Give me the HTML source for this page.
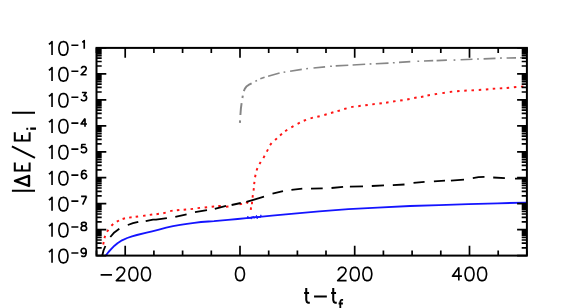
<!DOCTYPE html>
<html><head><meta charset="utf-8"><title>plot</title>
<style>
html,body{margin:0;padding:0;background:#fff;}
body{width:568px;height:308px;overflow:hidden;}
svg{display:block;}
</style></head><body>
<svg width="568" height="308" viewBox="0 0 568 308">
<rect width="568" height="308" fill="#fff"/>
<path d="M239.9,122.8 L240.1,120.3 M240.4,115.0 L240.9,108.5 L241.6,103.2 M242.4,98.0 L242.8,95.6 M243.8,91.2 L244.9,88.6 L246.4,86.6 L248.6,84.9 L251.6,83.4" fill="none" stroke="#858585" stroke-width="1.95" stroke-linejoin="round"/>
<path d="M255.4,81.2 L257.0,80.5 M260.3,78.8 L264.6,77.3 M268.1,76.2 L279.6,73.0 M283.6,72.3 L285.3,72.0 M290.1,71.2 L301.8,69.4 M306.2,68.7 L308.0,68.5 M313.5,68.0 L325.1,66.9 M330.1,66.3 L331.9,66.2 M335.7,65.9 L348.3,65.2 M352.6,65.0 L365.2,64.2 M369.6,64.0 L371.4,63.9 M375.8,63.7 L388.5,63.1 M392.9,62.8 L394.7,62.7 M399.0,62.4 L410.3,61.6 M417.4,61.3 L419.2,61.2 M424.0,61.0 L433.2,60.6 M436.6,60.6 L446.9,60.1 M453.6,60.1 L455.4,60.0 M460.6,59.8 L472.5,59.2 M477.1,59.0 L478.9,59.0 M483.6,58.9 L495.5,58.4 M500.1,58.1 L501.9,58.0 M506.6,58.0 L516.0,57.9 M520.0,57.7 L525.8,57.7" fill="none" stroke="#878787" stroke-width="1.65" stroke-linejoin="round"/>
<path d="M103.18,244.42 L103.72,241.98 M104.40,238.18 L105.20,235.82 M107.04,231.81 L108.36,229.69 M111.39,225.76 L113.21,224.04 M116.80,221.70 L119.00,220.50 M122.60,218.95 L125.00,218.25 M129.16,217.59 L131.64,217.21 M135.66,216.75 L138.14,216.45 M143.06,215.87 L145.54,215.53 M149.76,214.86 L152.24,214.54 M156.46,214.17 L158.94,213.83 M163.28,213.18 L165.72,212.62 M170.17,211.14 L172.63,210.66 M176.85,210.31 L179.35,210.09 M183.65,209.81 L186.15,209.59 M190.56,209.15 L193.04,208.85 M197.56,208.15 L200.04,207.85 M204.66,207.42 L207.14,207.18 M211.66,206.72 L214.14,206.48 M218.25,206.00 L220.75,206.00 M225.95,206.71 L228.45,206.49 M239.57,204.34 L242.03,203.86 M245.96,202.19 L248.24,203.21 M250.78,209.84 L251.02,207.36 M251.88,204.24 L252.12,201.76 M252.54,197.64 L252.86,195.16 M253.55,190.64 L253.85,188.16 M254.15,184.24 L254.45,181.76 M255.06,177.23 L255.54,174.77 M256.57,170.47 L257.43,168.13 M259.49,164.09 L260.71,161.91 M263.37,157.98 L264.63,155.82 M266.81,151.60 L267.99,149.40 M270.04,145.19 L271.56,143.21 M275.09,140.06 L276.91,138.34 M280.05,135.41 L281.95,133.79 M285.17,131.21 L287.23,129.79 M291.32,127.32 L293.48,126.08 M297.59,123.87 L299.81,122.73 M303.74,120.77 L306.06,119.83 M310.50,118.34 L312.90,117.66 M317.29,116.80 L319.71,116.20 M324.30,114.94 L326.70,114.26 M331.00,112.95 L333.40,112.25 M337.50,111.15 L339.90,110.45 M344.20,109.04 L346.60,108.36 M351.17,107.14 L353.63,106.66 M358.26,106.16 L360.74,105.84 M365.26,105.26 L367.74,104.94 M372.26,104.35 L374.74,104.05 M379.36,103.55 L381.84,103.25 M386.06,102.69 L388.54,102.31 M393.06,101.48 L395.54,101.12 M400.16,100.58 L402.64,100.22 M407.17,99.53 L409.63,99.07 M414.17,98.03 L416.63,97.57 M420.97,96.93 L423.43,96.47 M427.47,95.53 L429.93,95.07 M434.67,94.30 L437.13,93.90 M442.36,93.09 L444.84,92.71 M449.76,91.95 L452.24,91.65 M457.05,91.20 L459.55,91.00 M464.25,90.67 L466.75,90.53 M471.45,90.36 L473.95,90.24 M478.75,89.98 L481.25,89.82 M485.85,89.51 L488.35,89.29 M492.75,88.80 L495.25,88.60 M499.75,88.38 L502.25,88.22 M506.65,87.91 L509.15,87.69 M513.86,87.21 L516.34,86.99 M520.95,86.61 L523.45,86.39" fill="none" stroke="#ff1414" stroke-width="1.95"/>
<path d="M102.3,255.5 L103.5,250.5 L105.4,246.0 M110.3,237.0 L114.3,232.4 L119.3,228.8 M127.8,225.0 L133.0,223.2 L138.3,221.9 M145.7,221.2 L153.0,219.6 L156.0,219.6 L166.9,218.1 M175.3,216.9 L186.6,214.4 M195.0,212.2 L207.0,210.1 M214.8,208.9 L226.0,205.9 M231.6,205.0 L240.8,203.0 M246.4,201.9 L255.0,199.3 L264.0,196.7 M272.5,193.6 L283.0,191.2 M291.4,189.8 L302.3,188.6 M311.0,188.6 L322.7,188.3 M331.5,188.0 L343.1,186.9 M349.9,186.6 L363.0,186.3 M371.8,186.0 L384.0,185.4 M392.8,185.1 L404.5,184.5 M413.5,182.8 L424.6,181.9 M433.9,181.3 L445.0,180.7 M450.9,180.7 L464.0,179.6 M472.8,178.1 L478.5,177.2 L484.5,176.9 M493.2,177.5 L504.9,178.1 M515.0,178.7 L520.0,178.6 L526.0,178.1" fill="none" stroke="#000" stroke-width="1.85" stroke-linejoin="round"/>
<path d="M105.8,255.5 L108.5,252.0 L111.6,248.7 L114.5,245.7 L117.5,243.2 L122.0,240.3 L127.2,238.0 L132.0,236.3 L136.9,235.0 L146.6,232.7 L152.1,231.3 L159.0,229.6 L166.2,227.7 L173.0,226.2 L180.2,224.9 L187.0,223.8 L194.3,222.8 L201.0,222.0 L208.4,221.5 L214.0,221.2 L228.0,219.9 L237.7,219.0 L246.4,218.1 L262.0,216.6 L272.0,215.6 L294.0,213.6 L319.2,211.4 L348.4,209.2 L377.6,207.6 L410.0,206.0 L439.2,205.2 L468.4,204.2 L497.6,203.3 L526.0,202.6" fill="none" stroke="#1414ff" stroke-width="1.85" stroke-linejoin="round"/>
<path d="M246.40,218.10 L247.12,219.03 L247.84,216.06 L248.56,218.59 L249.28,217.12 L250.00,218.95 L250.72,216.98 L251.44,219.12 L252.16,216.35 L252.88,218.18 L253.60,216.21 L254.32,218.34 L255.04,216.57 L255.76,217.90 L256.48,215.23 L257.20,218.96 L257.92,216.29 L258.64,217.92 L259.36,216.15 L260.08,217.98 L260.80,214.82 L261.52,216.65" fill="none" stroke="#1414ff" stroke-width="0.8"/>
<rect x="96.5" y="47.9" width="430.4" height="207.7" fill="none" stroke="#000" stroke-width="2"/>
<path d="M96.5,47.9 v5.2 M96.5,255.6 v-5.2 M125.2,47.9 v9.8 M125.2,255.6 v-9.8 M153.9,47.9 v5.2 M153.9,255.6 v-5.2 M182.6,47.9 v5.2 M182.6,255.6 v-5.2 M211.3,47.9 v5.2 M211.3,255.6 v-5.2 M240.0,47.9 v9.8 M240.0,255.6 v-9.8 M268.7,47.9 v5.2 M268.7,255.6 v-5.2 M297.4,47.9 v5.2 M297.4,255.6 v-5.2 M326.0,47.9 v5.2 M326.0,255.6 v-5.2 M354.7,47.9 v9.8 M354.7,255.6 v-9.8 M383.4,47.9 v5.2 M383.4,255.6 v-5.2 M412.1,47.9 v5.2 M412.1,255.6 v-5.2 M440.8,47.9 v5.2 M440.8,255.6 v-5.2 M469.5,47.9 v9.8 M469.5,255.6 v-9.8 M498.2,47.9 v5.2 M498.2,255.6 v-5.2 M526.9,47.9 v5.2 M526.9,255.6 v-5.2 M96.5,255.6 h9.8 M526.9,255.6 h-9.8 M96.5,247.8 h5.2 M526.9,247.8 h-5.2 M96.5,243.2 h5.2 M526.9,243.2 h-5.2 M96.5,240.0 h5.2 M526.9,240.0 h-5.2 M96.5,237.5 h5.2 M526.9,237.5 h-5.2 M96.5,235.4 h5.2 M526.9,235.4 h-5.2 M96.5,233.7 h5.2 M526.9,233.7 h-5.2 M96.5,232.2 h5.2 M526.9,232.2 h-5.2 M96.5,230.8 h5.2 M526.9,230.8 h-5.2 M96.5,229.6 h9.8 M526.9,229.6 h-9.8 M96.5,221.8 h5.2 M526.9,221.8 h-5.2 M96.5,217.3 h5.2 M526.9,217.3 h-5.2 M96.5,214.0 h5.2 M526.9,214.0 h-5.2 M96.5,211.5 h5.2 M526.9,211.5 h-5.2 M96.5,209.4 h5.2 M526.9,209.4 h-5.2 M96.5,207.7 h5.2 M526.9,207.7 h-5.2 M96.5,206.2 h5.2 M526.9,206.2 h-5.2 M96.5,204.9 h5.2 M526.9,204.9 h-5.2 M96.5,203.7 h9.8 M526.9,203.7 h-9.8 M96.5,195.9 h5.2 M526.9,195.9 h-5.2 M96.5,191.3 h5.2 M526.9,191.3 h-5.2 M96.5,188.0 h5.2 M526.9,188.0 h-5.2 M96.5,185.5 h5.2 M526.9,185.5 h-5.2 M96.5,183.5 h5.2 M526.9,183.5 h-5.2 M96.5,181.7 h5.2 M526.9,181.7 h-5.2 M96.5,180.2 h5.2 M526.9,180.2 h-5.2 M96.5,178.9 h5.2 M526.9,178.9 h-5.2 M96.5,177.7 h9.8 M526.9,177.7 h-9.8 M96.5,169.9 h5.2 M526.9,169.9 h-5.2 M96.5,165.3 h5.2 M526.9,165.3 h-5.2 M96.5,162.1 h5.2 M526.9,162.1 h-5.2 M96.5,159.6 h5.2 M526.9,159.6 h-5.2 M96.5,157.5 h5.2 M526.9,157.5 h-5.2 M96.5,155.8 h5.2 M526.9,155.8 h-5.2 M96.5,154.3 h5.2 M526.9,154.3 h-5.2 M96.5,152.9 h5.2 M526.9,152.9 h-5.2 M96.5,151.8 h9.8 M526.9,151.8 h-9.8 M96.5,143.9 h5.2 M526.9,143.9 h-5.2 M96.5,139.4 h5.2 M526.9,139.4 h-5.2 M96.5,136.1 h5.2 M526.9,136.1 h-5.2 M96.5,133.6 h5.2 M526.9,133.6 h-5.2 M96.5,131.5 h5.2 M526.9,131.5 h-5.2 M96.5,129.8 h5.2 M526.9,129.8 h-5.2 M96.5,128.3 h5.2 M526.9,128.3 h-5.2 M96.5,127.0 h5.2 M526.9,127.0 h-5.2 M96.5,125.8 h9.8 M526.9,125.8 h-9.8 M96.5,118.0 h5.2 M526.9,118.0 h-5.2 M96.5,113.4 h5.2 M526.9,113.4 h-5.2 M96.5,110.2 h5.2 M526.9,110.2 h-5.2 M96.5,107.6 h5.2 M526.9,107.6 h-5.2 M96.5,105.6 h5.2 M526.9,105.6 h-5.2 M96.5,103.8 h5.2 M526.9,103.8 h-5.2 M96.5,102.3 h5.2 M526.9,102.3 h-5.2 M96.5,101.0 h5.2 M526.9,101.0 h-5.2 M96.5,99.8 h9.8 M526.9,99.8 h-9.8 M96.5,92.0 h5.2 M526.9,92.0 h-5.2 M96.5,87.4 h5.2 M526.9,87.4 h-5.2 M96.5,84.2 h5.2 M526.9,84.2 h-5.2 M96.5,81.7 h5.2 M526.9,81.7 h-5.2 M96.5,79.6 h5.2 M526.9,79.6 h-5.2 M96.5,77.9 h5.2 M526.9,77.9 h-5.2 M96.5,76.4 h5.2 M526.9,76.4 h-5.2 M96.5,75.1 h5.2 M526.9,75.1 h-5.2 M96.5,73.9 h9.8 M526.9,73.9 h-9.8 M96.5,66.0 h5.2 M526.9,66.0 h-5.2 M96.5,61.5 h5.2 M526.9,61.5 h-5.2 M96.5,58.2 h5.2 M526.9,58.2 h-5.2 M96.5,55.7 h5.2 M526.9,55.7 h-5.2 M96.5,53.7 h5.2 M526.9,53.7 h-5.2 M96.5,51.9 h5.2 M526.9,51.9 h-5.2 M96.5,50.4 h5.2 M526.9,50.4 h-5.2 M96.5,49.1 h5.2 M526.9,49.1 h-5.2 M96.5,47.9 h9.8 M526.9,47.9 h-9.8" fill="none" stroke="#000" stroke-width="1.7"/>
<path d="M48.84,251.92 L50.12,251.28 L52.04,249.36 L52.04,262.80 M62.76,249.36 L60.84,250.00 L59.56,251.92 L58.92,255.12 L58.92,257.04 L59.56,260.24 L60.84,262.16 L62.76,262.80 L64.04,262.80 L65.96,262.16 L67.24,260.24 L67.88,257.04 L67.88,255.12 L67.24,251.92 L65.96,250.00 L64.04,249.36 L62.76,249.36 M71.36,252.99 L78.38,252.99 M86.18,251.04 L85.79,252.21 L85.01,252.99 L83.84,253.38 L83.45,253.38 L82.28,252.99 L81.50,252.21 L81.11,251.04 L81.11,250.65 L81.50,249.48 L82.28,248.70 L83.45,248.31 L83.84,248.31 L85.01,248.70 L85.79,249.48 L86.18,251.04 L86.18,252.99 L85.79,254.94 L85.01,256.11 L83.84,256.50 L83.06,256.50 L81.89,256.11 L81.50,255.33 M48.84,225.96 L50.12,225.32 L52.04,223.40 L52.04,236.84 M62.76,223.40 L60.84,224.04 L59.56,225.96 L58.92,229.16 L58.92,231.08 L59.56,234.28 L60.84,236.20 L62.76,236.84 L64.04,236.84 L65.96,236.20 L67.24,234.28 L67.88,231.08 L67.88,229.16 L67.24,225.96 L65.96,224.04 L64.04,223.40 L62.76,223.40 M71.36,227.03 L78.38,227.03 M83.06,222.35 L81.89,222.74 L81.50,223.52 L81.50,224.30 L81.89,225.08 L82.67,225.47 L84.23,225.86 L85.40,226.25 L86.18,227.03 L86.57,227.81 L86.57,228.98 L86.18,229.76 L85.79,230.15 L84.62,230.54 L83.06,230.54 L81.89,230.15 L81.50,229.76 L81.11,228.98 L81.11,227.81 L81.50,227.03 L82.28,226.25 L83.45,225.86 L85.01,225.47 L85.79,225.08 L86.18,224.30 L86.18,223.52 L85.79,222.74 L84.62,222.35 L83.06,222.35 M48.84,199.99 L50.12,199.35 L52.04,197.43 L52.04,210.87 M62.76,197.43 L60.84,198.07 L59.56,199.99 L58.92,203.19 L58.92,205.11 L59.56,208.31 L60.84,210.23 L62.76,210.87 L64.04,210.87 L65.96,210.23 L67.24,208.31 L67.88,205.11 L67.88,203.19 L67.24,199.99 L65.96,198.07 L64.04,197.43 L62.76,197.43 M71.36,201.06 L78.38,201.06 M86.57,196.38 L82.67,204.57 M81.11,196.38 L86.57,196.38 M48.84,174.03 L50.12,173.39 L52.04,171.47 L52.04,184.91 M62.76,171.47 L60.84,172.11 L59.56,174.03 L58.92,177.23 L58.92,179.15 L59.56,182.35 L60.84,184.27 L62.76,184.91 L64.04,184.91 L65.96,184.27 L67.24,182.35 L67.88,179.15 L67.88,177.23 L67.24,174.03 L65.96,172.11 L64.04,171.47 L62.76,171.47 M71.36,175.10 L78.38,175.10 M86.18,171.59 L85.79,170.81 L84.62,170.42 L83.84,170.42 L82.67,170.81 L81.89,171.98 L81.50,173.93 L81.50,175.88 L81.89,177.44 L82.67,178.22 L83.84,178.61 L84.23,178.61 L85.40,178.22 L86.18,177.44 L86.57,176.27 L86.57,175.88 L86.18,174.71 L85.40,173.93 L84.23,173.54 L83.84,173.54 L82.67,173.93 L81.89,174.71 L81.50,175.88 M48.84,148.07 L50.12,147.43 L52.04,145.51 L52.04,158.95 M62.76,145.51 L60.84,146.15 L59.56,148.07 L58.92,151.27 L58.92,153.19 L59.56,156.39 L60.84,158.31 L62.76,158.95 L64.04,158.95 L65.96,158.31 L67.24,156.39 L67.88,153.19 L67.88,151.27 L67.24,148.07 L65.96,146.15 L64.04,145.51 L62.76,145.51 M71.36,149.14 L78.38,149.14 M85.79,144.46 L81.89,144.46 L81.50,147.97 L81.89,147.58 L83.06,147.19 L84.23,147.19 L85.40,147.58 L86.18,148.36 L86.57,149.53 L86.57,150.31 L86.18,151.48 L85.40,152.26 L84.23,152.65 L83.06,152.65 L81.89,152.26 L81.50,151.87 L81.11,151.09 M48.84,122.11 L50.12,121.47 L52.04,119.55 L52.04,132.99 M62.76,119.55 L60.84,120.19 L59.56,122.11 L58.92,125.31 L58.92,127.23 L59.56,130.43 L60.84,132.35 L62.76,132.99 L64.04,132.99 L65.96,132.35 L67.24,130.43 L67.88,127.23 L67.88,125.31 L67.24,122.11 L65.96,120.19 L64.04,119.55 L62.76,119.55 M71.36,123.18 L78.38,123.18 M85.01,118.50 L81.11,123.96 L86.96,123.96 M85.01,118.50 L85.01,126.69 M48.84,96.14 L50.12,95.50 L52.04,93.58 L52.04,107.02 M62.76,93.58 L60.84,94.22 L59.56,96.14 L58.92,99.34 L58.92,101.26 L59.56,104.46 L60.84,106.38 L62.76,107.02 L64.04,107.02 L65.96,106.38 L67.24,104.46 L67.88,101.26 L67.88,99.34 L67.24,96.14 L65.96,94.22 L64.04,93.58 L62.76,93.58 M71.36,97.21 L78.38,97.21 M81.89,92.53 L86.18,92.53 L83.84,95.66 L85.01,95.66 L85.79,96.04 L86.18,96.43 L86.57,97.60 L86.57,98.38 L86.18,99.55 L85.40,100.33 L84.23,100.72 L83.06,100.72 L81.89,100.33 L81.50,99.94 L81.11,99.16 M48.84,70.18 L50.12,69.54 L52.04,67.62 L52.04,81.06 M62.76,67.62 L60.84,68.26 L59.56,70.18 L58.92,73.38 L58.92,75.30 L59.56,78.50 L60.84,80.42 L62.76,81.06 L64.04,81.06 L65.96,80.42 L67.24,78.50 L67.88,75.30 L67.88,73.38 L67.24,70.18 L65.96,68.26 L64.04,67.62 L62.76,67.62 M71.36,71.25 L78.38,71.25 M81.50,68.52 L81.50,68.13 L81.89,67.35 L82.28,66.96 L83.06,66.57 L84.62,66.57 L85.40,66.96 L85.79,67.35 L86.18,68.13 L86.18,68.91 L85.79,69.69 L85.01,70.86 L81.11,74.76 L86.57,74.76 M48.84,44.22 L50.12,43.58 L52.04,41.66 L52.04,55.10 M62.76,41.66 L60.84,42.30 L59.56,44.22 L58.92,47.42 L58.92,49.34 L59.56,52.54 L60.84,54.46 L62.76,55.10 L64.04,55.10 L65.96,54.46 L67.24,52.54 L67.88,49.34 L67.88,47.42 L67.24,44.22 L65.96,42.30 L64.04,41.66 L62.76,41.66 M71.36,45.29 L78.38,45.29 M82.28,42.17 L83.06,41.78 L84.23,40.61 L84.23,48.80 M100.62,274.93 L111.96,274.93 M117.00,270.52 L117.00,269.89 L117.63,268.63 L118.26,268.00 L119.52,267.37 L122.04,267.37 L123.30,268.00 L123.93,268.63 L124.56,269.89 L124.56,271.15 L123.93,272.41 L122.67,274.30 L116.37,280.60 L125.19,280.60 M132.75,267.37 L130.86,268.00 L129.60,269.89 L128.97,273.04 L128.97,274.93 L129.60,278.08 L130.86,279.97 L132.75,280.60 L134.01,280.60 L135.90,279.97 L137.16,278.08 L137.79,274.93 L137.79,273.04 L137.16,269.89 L135.90,268.00 L134.01,267.37 L132.75,267.37 M145.35,267.37 L143.46,268.00 L142.20,269.89 L141.57,273.04 L141.57,274.93 L142.20,278.08 L143.46,279.97 L145.35,280.60 L146.61,280.60 L148.50,279.97 L149.76,278.08 L150.39,274.93 L150.39,273.04 L149.76,269.89 L148.50,268.00 L146.61,267.37 L145.35,267.37 M239.34,267.37 L237.45,268.00 L236.19,269.89 L235.56,273.04 L235.56,274.93 L236.19,278.08 L237.45,279.97 L239.34,280.60 L240.60,280.60 L242.49,279.97 L243.75,278.08 L244.38,274.93 L244.38,273.04 L243.75,269.89 L242.49,268.00 L240.60,267.37 L239.34,267.37 M338.36,270.52 L338.36,269.89 L338.99,268.63 L339.62,268.00 L340.88,267.37 L343.40,267.37 L344.66,268.00 L345.29,268.63 L345.92,269.89 L345.92,271.15 L345.29,272.41 L344.03,274.30 L337.73,280.60 L346.55,280.60 M354.11,267.37 L352.22,268.00 L350.96,269.89 L350.33,273.04 L350.33,274.93 L350.96,278.08 L352.22,279.97 L354.11,280.60 L355.37,280.60 L357.26,279.97 L358.52,278.08 L359.15,274.93 L359.15,273.04 L358.52,269.89 L357.26,268.00 L355.37,267.37 L354.11,267.37 M366.71,267.37 L364.82,268.00 L363.56,269.89 L362.93,273.04 L362.93,274.93 L363.56,278.08 L364.82,279.97 L366.71,280.60 L367.97,280.60 L369.86,279.97 L371.12,278.08 L371.75,274.93 L371.75,273.04 L371.12,269.89 L369.86,268.00 L367.97,267.37 L366.71,267.37 M458.80,267.37 L452.50,276.19 L461.95,276.19 M458.80,267.37 L458.80,280.60 M468.88,267.37 L466.99,268.00 L465.73,269.89 L465.10,273.04 L465.10,274.93 L465.73,278.08 L466.99,279.97 L468.88,280.60 L470.14,280.60 L472.03,279.97 L473.29,278.08 L473.92,274.93 L473.92,273.04 L473.29,269.89 L472.03,268.00 L470.14,267.37 L468.88,267.37 M481.48,267.37 L479.59,268.00 L478.33,269.89 L477.70,273.04 L477.70,274.93 L478.33,278.08 L479.59,279.97 L481.48,280.60 L482.74,280.60 L484.63,279.97 L485.89,278.08 L486.52,274.93 L486.52,273.04 L485.89,269.89 L484.63,268.00 L482.74,267.37 L481.48,267.37" fill="none" stroke="#000" stroke-width="1.65" stroke-linejoin="round" stroke-linecap="butt"/>
<path d="M343.1,299.8 L341.9,299.8 L340.9,300.3 L340.3,301.6 L340.3,309 M338.6,303.5 L342.9,303.5" fill="none" stroke="#000" stroke-width="1.8" stroke-linejoin="round"/>
<path d="M306.25,288.10 L306.25,300.00 L306.96,302.10 L308.38,302.80 L309.80,302.80 M304.12,293.00 L309.09,293.00 M314.06,296.50 L326.84,296.50 M333.23,288.10 L333.23,300.00 L333.94,302.10 L335.36,302.80 L336.78,302.80 M331.10,293.00 L336.07,293.00 M11.90,190.80 L35.00,190.80 M14.80,170.50 L29.60,170.50 M14.80,171.50 L14.80,162.40 M22.00,170.50 L22.00,165.20 M29.60,171.50 L29.60,162.40 M35.00,157.80 L11.90,146.30 M14.80,140.40 L29.60,140.40 M14.80,141.40 L14.80,132.30 M22.00,140.40 L22.00,135.10 M29.60,141.40 L29.60,132.30 M30.20,128.60 L36.00,128.60 M11.90,112.70 L35.00,112.70" fill="none" stroke="#000" stroke-width="2.05" stroke-linejoin="round" stroke-linecap="butt"/>
<path d="M15.0,180.9 L29.0,185.9 L29.0,175.9 Z" fill="none" stroke="#000" stroke-width="2.4" stroke-linejoin="round"/>
<rect x="26.3" y="127.8" width="1.9" height="2.0" fill="#000"/>
</svg>
</body></html>
